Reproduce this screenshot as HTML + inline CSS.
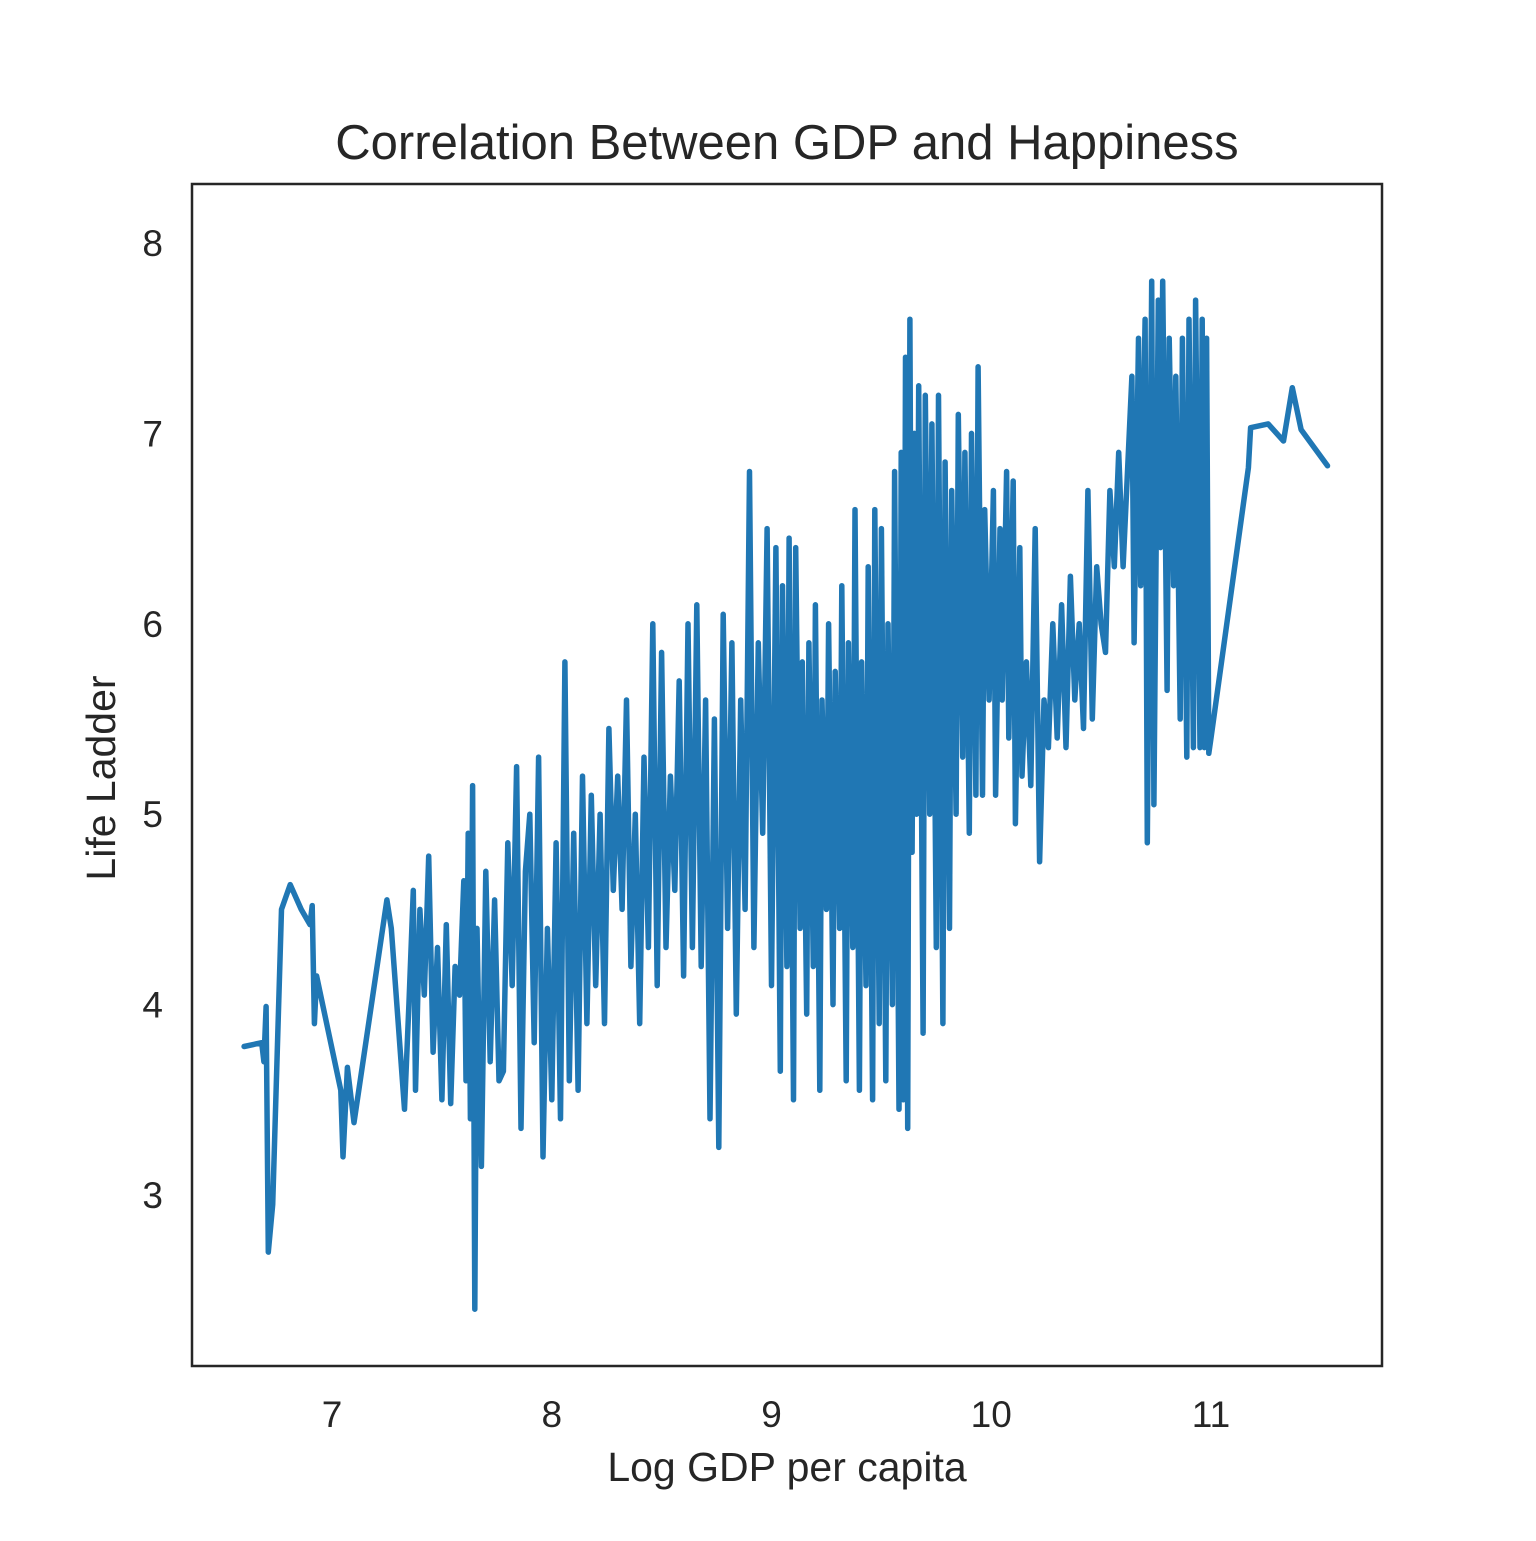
<!DOCTYPE html>
<html><head><meta charset="utf-8"><style>
html,body{margin:0;padding:0;background:#fff;}
svg text{font-family:"Liberation Sans",Arial,sans-serif;fill:#262626;}
</style></head><body>
<svg id="chart" width="1536" height="1536" xmlns="http://www.w3.org/2000/svg">
<rect width="1536" height="1536" fill="#fff"/>
<text x="787" y="159" font-size="49" text-anchor="middle">Correlation Between GDP and Happiness</text>
<g id="plot"></g>
<g id="xticks"></g>
<g id="yticks"></g>
<rect x="192" y="184" width="1190" height="1182" fill="none" stroke="#262626" stroke-width="2.5"/>
<text x="787" y="1481" font-size="41" text-anchor="middle">Log GDP per capita</text>
<text x="115" y="778" font-size="41" text-anchor="middle" transform="rotate(-90 115 778)">Life Ladder</text>
</svg>
<script>
const gdp = [6.6,6.68,6.69,6.7,6.71,6.73,6.77,6.81,6.86,6.9,6.91,6.92,6.93,7.04,7.05,7.07,7.1,7.25,7.27,7.33,7.35,7.37,7.38,7.4,
7.42,7.44,7.46,7.48,7.5,7.52,7.54,7.56,7.58,7.6,7.61,7.62,7.63,7.64,7.65,7.66,7.68,7.7,7.72,7.74,7.76,7.78,7.8,7.82,7.84,7.86,7.88,7.9,7.92,7.94,7.96,7.98,
8.0,8.02,8.04,8.06,8.08,8.1,8.12,8.14,8.16,8.18,8.2,8.22,8.24,8.26,8.28,8.3,8.32,8.34,8.36,8.38,8.4,8.42,8.44,8.46,8.48,8.5,
8.52,8.54,8.56,8.58,8.6,8.62,8.64,8.66,8.68,8.7,8.72,8.74,8.76,8.78,8.8,8.82,8.84,8.86,8.88,8.9,8.92,8.94,8.96,8.98,9.0,
9.02,9.04,9.05,9.07,9.08,9.1,9.11,9.13,9.14,9.16,9.17,9.19,9.2,9.22,9.23,9.25,9.26,9.28,9.29,9.31,9.32,9.34,9.35,9.37,9.38,9.4,9.41,9.43,9.44,9.46,9.47,9.49,
9.5,9.52,9.53,9.55,9.56,9.58,9.59,9.6,9.61,9.62,9.63,9.64,9.65,9.66,9.67,9.69,9.7,9.72,9.73,9.75,9.76,9.78,9.79,9.81,9.82,9.84,9.85,9.87,9.88,9.9,9.91,9.93,9.94,9.96,9.97,9.99,
10.01,10.02,10.04,10.05,10.07,10.08,10.1,10.11,10.13,10.14,10.16,10.18,10.2,10.22,10.24,10.26,10.28,10.3,10.32,10.34,10.36,10.38,10.4,10.42,10.44,10.46,10.48,10.5,
10.52,10.54,10.56,10.58,10.6,10.62,10.64,10.65,10.67,10.68,10.7,10.71,10.73,10.74,10.76,10.77,10.78,10.8,10.81,10.83,10.84,10.86,10.87,10.89,10.9,10.92,10.93,10.95,10.96,10.97,10.98,10.99,11.0,
11.17,11.18,11.26,11.33,11.37,11.41,11.53];
const ladder = [3.78,3.8,3.7,3.99,2.7,2.95,4.5,4.63,4.5,4.42,4.52,3.9,4.15,3.55,3.2,3.67,3.38,4.55,4.4,3.45,4.0,4.6,3.55,4.5,
4.05,4.78,3.75,4.3,3.5,4.42,3.48,4.2,4.05,4.65,3.6,4.9,3.4,5.15,2.4,4.4,3.15,4.7,3.7,4.55,3.6,3.65,4.85,4.1,5.25,3.35,4.7,5.0,3.8,5.3,3.2,4.4,
3.5,4.85,3.4,5.8,3.6,4.9,3.55,5.2,3.9,5.1,4.1,5.0,3.9,5.45,4.6,5.2,4.5,5.6,4.2,5.0,3.9,5.3,4.3,6.0,4.1,5.85,
4.3,5.2,4.6,5.7,4.15,6.0,4.3,6.1,4.2,5.6,3.4,5.5,3.25,6.05,4.4,5.9,3.95,5.6,4.5,6.8,4.3,5.9,4.9,6.5,4.1,
6.4,3.65,6.2,4.2,6.45,3.5,6.4,4.4,5.8,3.95,5.9,4.2,6.1,3.55,5.6,4.5,6.0,4.0,5.75,4.4,6.2,3.6,5.9,4.3,6.6,3.55,5.8,4.1,6.3,3.5,6.6,3.9,
6.5,3.6,6.0,4.0,6.8,3.45,6.9,3.5,7.4,3.35,7.6,4.8,7.0,5.0,7.25,3.85,7.2,5.0,7.05,4.3,7.2,3.9,6.85,4.4,6.7,5.0,7.1,5.3,6.9,4.9,7.0,5.1,7.35,5.1,6.6,5.6,
6.7,5.1,6.5,5.6,6.8,5.4,6.75,4.95,6.4,5.2,5.8,5.15,6.5,4.75,5.6,5.35,6.0,5.4,6.1,5.35,6.25,5.6,6.0,5.45,6.7,5.5,6.3,6.0,
5.85,6.7,6.3,6.9,6.3,6.8,7.3,5.9,7.5,6.2,7.6,4.85,7.8,5.05,7.7,6.4,7.8,5.65,7.5,6.2,7.3,5.5,7.5,5.3,7.6,5.35,7.7,5.35,7.6,5.35,7.5,5.32,5.4,
6.82,7.03,7.05,6.96,7.24,7.02,6.83];
const xTicks = [7,8,9,10,11];
const yTicks = [3,4,5,6,7,8];

const NS = "http://www.w3.org/2000/svg";
function xs(v){ return 332 + (v - 7) * 219.75; }
function ys(v){ return 1195 - (v - 3) * 190.4; }

const plot = document.getElementById('plot');
let d = '';
for (let i = 0; i < gdp.length; i++) d += (i ? 'L' : 'M') + xs(gdp[i]).toFixed(1) + ',' + ys(ladder[i]).toFixed(1);
const line = document.createElementNS(NS, 'path');
line.setAttribute('d', d);
line.setAttribute('fill', 'none');
line.setAttribute('stroke', '#2077b4');
line.setAttribute('stroke-width', '5.5');
line.setAttribute('stroke-linejoin', 'round');
line.setAttribute('stroke-linecap', 'round');


plot.appendChild(line);

const xg = document.getElementById('xticks');
xTicks.forEach(t => {
  const tx = document.createElementNS(NS, 'text');
  tx.setAttribute('x', xs(t));
  tx.setAttribute('y', 1427);
  tx.setAttribute('font-size', '37');
  tx.setAttribute('text-anchor', 'middle');
  tx.textContent = t;
  
  
  xg.appendChild(tx);
});
const yg = document.getElementById('yticks');
yTicks.forEach(t => {
  const tx = document.createElementNS(NS, 'text');
  tx.setAttribute('x', 163);
  tx.setAttribute('y', ys(t) + 13);
  tx.setAttribute('font-size', '37');
  tx.setAttribute('text-anchor', 'end');
  tx.textContent = t;
  
  
  yg.appendChild(tx);
});
</script>
</body></html>
